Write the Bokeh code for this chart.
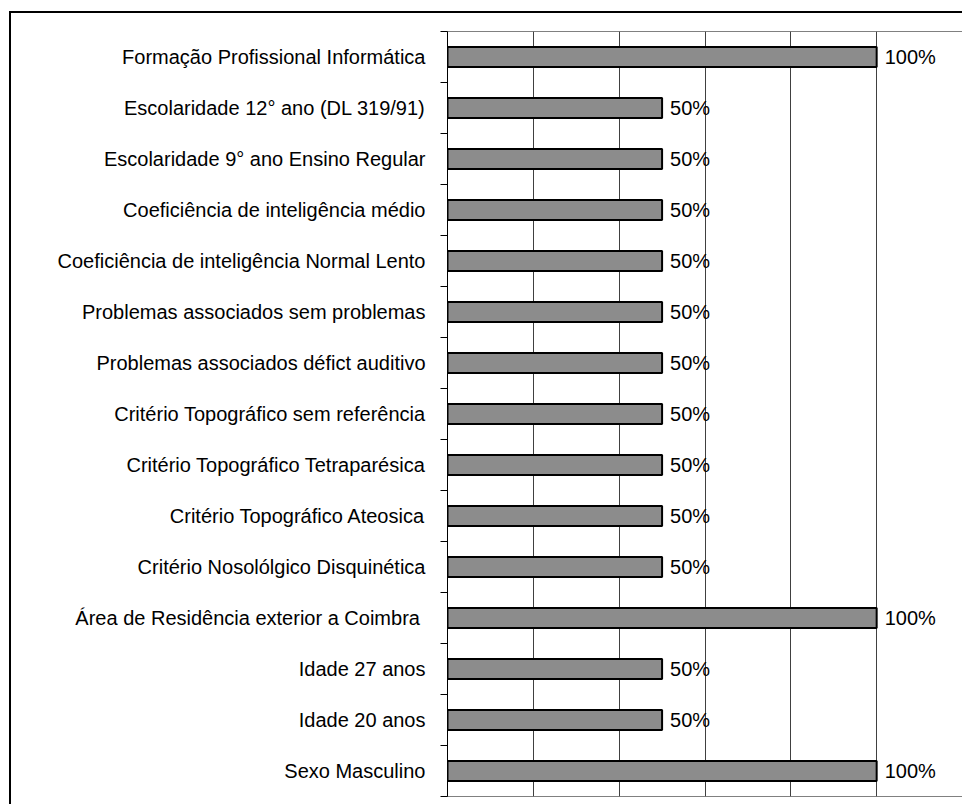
from bokeh.plotting import figure
from bokeh.models import FixedTicker, Range1d, ColumnDataSource
from bokeh.core.properties import value
from bokeh.embed import file_html
from bokeh.resources import INLINE

categories = [
    "Formação Profissional Informática",
    "Escolaridade 12° ano (DL 319/91)",
    "Escolaridade 9° ano Ensino Regular",
    "Coeficiência de inteligência médio",
    "Coeficiência de inteligência Normal Lento",
    "Problemas associados sem problemas",
    "Problemas associados défict auditivo",
    "Critério Topográfico sem referência",
    "Critério Topográfico Tetraparésica",
    "Critério Topográfico Ateosica",
    "Critério Nosolólgico Disquinética",
    "Área de Residência exterior a Coimbra ",
    "Idade 27 anos",
    "Idade 20 anos",
    "Sexo Masculino",
]
values = [100, 50, 50, 50, 50, 50, 50, 50, 50, 50, 50, 100, 50, 50, 100]
grid_ticks = [20, 40, 60, 80, 100]

n = len(categories)
ys = [n - 1 - i + 0.5 for i in range(n)]
src = ColumnDataSource(dict(y=ys, v=values, lab=[f"{v}%" for v in values]))

FONT = "Liberation Sans"
FS = "20px"

p = figure(width=953, height=793, x_range=Range1d(0, 120), y_range=Range1d(0, n),
           output_backend="svg", toolbar_location=None,
           min_border_left=436, min_border_right=2, min_border_top=18, min_border_bottom=10)
p.styles = {"border-left": "2px solid black", "border-top": "2px solid black",
            "margin-left": "9px", "margin-top": "11px"}

p.hbar(y="y", right="v", left=0, height=0.39, fill_color="#8c8c8c",
       line_color="black", line_width=2, source=src)
p.text(x="v", y="y", text="lab", x_offset=8, text_baseline="middle",
       text_font=value(FONT), text_font_size=FS, text_color="black", source=src)

p.xaxis.visible = False
p.ygrid.visible = False
p.xgrid.ticker = FixedTicker(ticks=grid_ticks)
p.xgrid.grid_line_color = "#404040"
p.xgrid.grid_line_width = 1

ya = p.yaxis[0]
ya.ticker = FixedTicker(ticks=ys, minor_ticks=list(range(n + 1)))
ya.major_label_overrides = {y: c for y, c in zip(ys, categories)}
ya.major_tick_in = 0
ya.major_tick_out = 0
ya.minor_tick_in = 0
ya.minor_tick_out = 7
ya.minor_tick_line_color = "black"
ya.axis_line_color = "black"
ya.major_label_standoff = 15
ya.major_label_text_font = FONT
ya.major_label_text_font_size = FS
ya.major_label_text_color = "black"

p.outline_line_color = "#808080"
p.outline_line_width = 1

open("out.html", "w").write(file_html(p, INLINE))
